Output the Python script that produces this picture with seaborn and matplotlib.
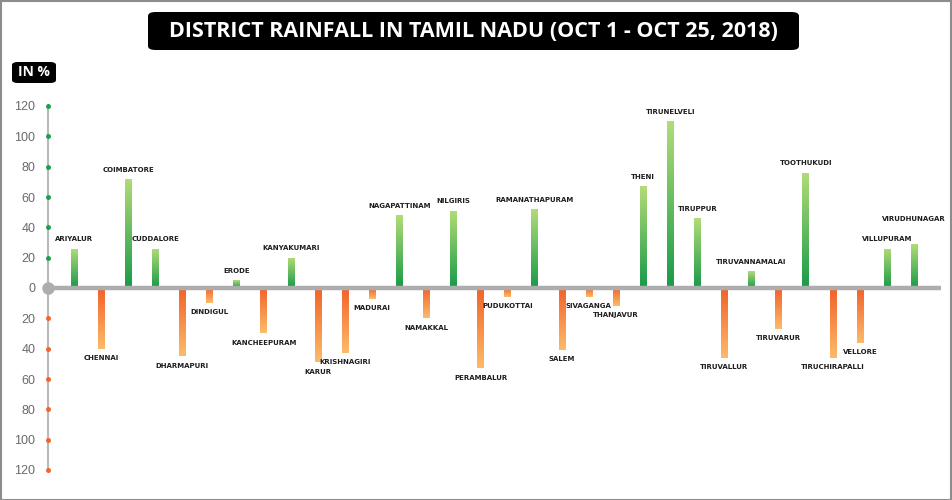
import numpy as np
import pandas as pd
import matplotlib
matplotlib.use("Agg")
import matplotlib.pyplot as plt
import seaborn as sns
from matplotlib.patches import FancyBboxPatch, Rectangle
from matplotlib.colors import LinearSegmentedColormap

districts = ["ARIYALUR", "CHENNAI", "COIMBATORE", "CUDDALORE", "DHARMAPURI", "DINDIGUL",
             "ERODE", "KANCHEEPURAM", "KANYAKUMARI", "KARUR", "KRISHNAGIRI", "MADURAI",
             "NAGAPATTINAM", "NAMAKKAL", "NILGIRIS", "PERAMBALUR", "PUDUKOTTAI",
             "RAMANATHAPURAM", "SALEM", "SIVAGANGA", "THANJAVUR", "THENI", "TIRUNELVELI",
             "TIRUPPUR", "TIRUVALLUR", "TIRUVANNAMALAI", "TIRUVARUR", "TOOTHUKUDI",
             "TIRUCHIRAPALLI", "VELLORE", "VILLUPURAM", "VIRUDHUNAGAR"]
rainfall = [26, -40, 72, 26, -45, -10, 5, -30, 20, -49, -43, -7,
            48, -20, 51, -53, -6, 52, -41, -6, -12, 67, 110,
            46, -46, 11, -27, 76, -46, -36, 26, 29]
ytick_values = [120, 100, 80, 60, 40, 20, 0, -20, -40, -60, -80, -100, -120]
ytick_labels = ["120", "100", "80", "60", "40", "20", "0", "20", "40", "60", "80", "100", "120"]
title = "DISTRICT RAINFALL IN TAMIL NADU (OCT 1 - OCT 25, 2018)"
unit_label = "IN %"

df = pd.DataFrame({"district": districts, "rainfall": rainfall})

sns.set_style("white")
W, H = 952, 500
fig = plt.figure(figsize=(W / 100, H / 100), dpi=100)

# axes placement in pixels
ax_left, ax_right, ax_top, ax_bottom = 48, 941, 100, 480
ax = fig.add_axes([ax_left / W, (H - ax_bottom) / H, (ax_right - ax_left) / W, (ax_bottom - ax_top) / H])

sns.barplot(data=df, x="district", y="rainfall", width=0.24, ax=ax, color="#888888",
            saturation=1, zorder=2)

x0_pix, step = 74, 27.1
ppu = (288 - 106) / 120.0

green = LinearSegmentedColormap.from_list("g", ["#189a48", "#b3dc78"])
orange = LinearSegmentedColormap.from_list("o", ["#fcbb6a", "#f2612a"])
grad = np.linspace(0, 1, 256).reshape(-1, 1)
for patch, val in zip(ax.patches, df["rainfall"]):
    x, y = patch.get_x(), patch.get_y()
    w, h = patch.get_width(), patch.get_height()
    ylo, yhi = min(y, y + h), max(y, y + h)
    cmap = green if val >= 0 else orange
    im = ax.imshow(grad, cmap=cmap, origin="lower", aspect="auto",
                   extent=[x, x + w, ylo, yhi], zorder=2)
    im.set_clip_path(patch)
    patch.set_facecolor("none")
    patch.set_edgecolor("none")

ax.set_xlim((ax_left - x0_pix) / step, (ax_right - x0_pix) / step)
ax.set_ylim(-(ax_bottom - 288) / ppu, (288 - ax_top) / ppu)

# zero line
ax.axhline(0, color="#adadb0", lw=3.2, zorder=3)

# labels
for i, (name, val) in enumerate(zip(districts, rainfall)):
    extra = 11 if name == "VIRUDHUNAGAR" else 0
    if val >= 0:
        ax.annotate(name, (i, val), xytext=(0, 4.5 + extra), textcoords="offset points",
                    ha="center", va="bottom", fontsize=5, fontweight="bold",
                    color="#1e1e1e", family="DejaVu Sans")
    else:
        ax.annotate(name, (i, val), xytext=(0, -4.5), textcoords="offset points",
                    ha="center", va="top", fontsize=5, fontweight="bold",
                    color="#1e1e1e", family="DejaVu Sans")

# y axis
for s in ["top", "right", "bottom"]:
    ax.spines[s].set_visible(False)
ax.spines["left"].set_bounds(-120, 120)
ax.spines["left"].set_color("#b9b9bc")
ax.spines["left"].set_linewidth(1.5)
ax.spines["left"].set_zorder(1)
ax.set_xticks([])
ax.set_xlabel("")
ax.set_ylabel("")
ax.set_yticks(ytick_values)
ax.set_yticklabels(ytick_labels)
ax.tick_params(axis="y", length=0, pad=9, labelsize=9, labelcolor="#6a6a6a")
for lab in ax.get_yticklabels():
    lab.set_family("Liberation Sans")
for tv in ytick_values:
    if tv > 0:
        c, ms = "#1da24b", 3.6
    elif tv < 0:
        c, ms = "#f2662c", 3.6
    else:
        c, ms = "#adadb0", 9
    ax.plot([0], [tv], marker="o", ms=ms, color=c, mec="none", transform=ax.get_yaxis_transform(),
            clip_on=False, zorder=4)

# title box
fig.patches.append(FancyBboxPatch((148 / W, (H - 50) / H), (799 - 148) / W, 38 / H,
                                  boxstyle="round,pad=0,rounding_size=0.008",
                                  transform=fig.transFigure, facecolor="black",
                                  edgecolor="none", figure=fig))
fig.text(473.5 / W, (H - 31.5) / H, title, color="white", fontsize=15.5, fontweight="bold",
         family="Open Sans", ha="center", va="center")

fig.patches.append(FancyBboxPatch((12 / W, (H - 83) / H), 44 / W, 21 / H,
                                  boxstyle="round,pad=0,rounding_size=0.006",
                                  transform=fig.transFigure, facecolor="black",
                                  edgecolor="none", figure=fig))
fig.text(34 / W, (H - 72.5) / H, unit_label, color="white", fontsize=10, fontweight="bold",
         family="Open Sans", ha="center", va="center")

# outer frame
fig.patches.append(Rectangle((0.5 / W, 0.5 / H), (W - 1.5) / W, (H - 1.5) / H,
                             transform=fig.transFigure, facecolor="none",
                             edgecolor="#8c8c8c", lw=1.5, figure=fig))

fig.savefig("out.png", dpi=100)
